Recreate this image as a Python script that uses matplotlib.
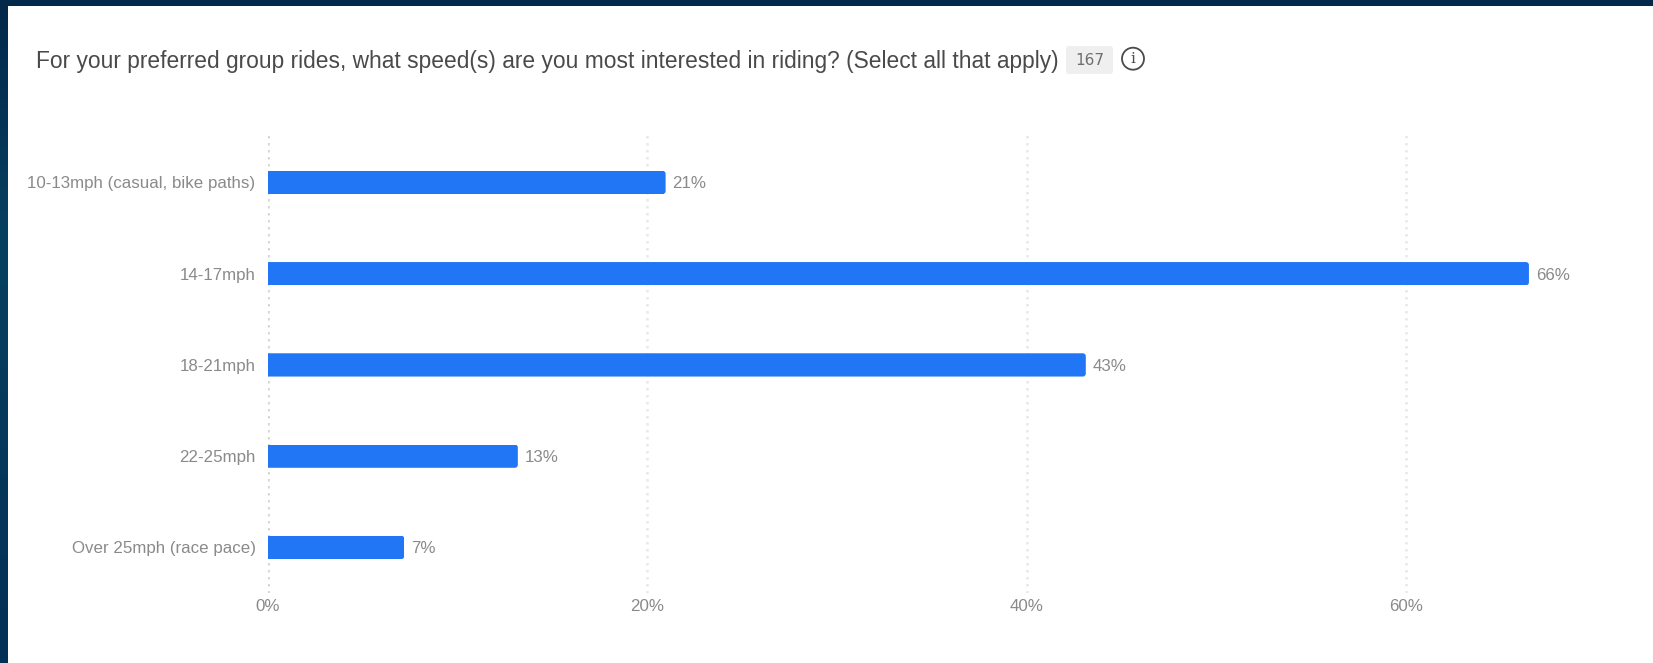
import numpy as np
import matplotlib
matplotlib.use("Agg")
import matplotlib.pyplot as plt
from matplotlib.colors import LinearSegmentedColormap
from matplotlib.patches import Circle, FancyBboxPatch, Rectangle
from matplotlib.transforms import IdentityTransform

categories = ["10-13mph (casual, bike paths)", "14-17mph", "18-21mph", "22-25mph", "Over 25mph (race pace)"]
percent = [20.96, 66.47, 43.11, 13.17, 7.19]
x_ticks = [0, 20, 40, 60]
title = "For your preferred group rides, what speed(s) are you most interested in riding? (Select all that apply)"
responses = "167"

W, H = 1653, 663
plt.rcParams["font.family"] = ["Liberation Sans", "DejaVu Sans"]

fig = plt.figure(figsize=(W / 100, H / 100), dpi=100)

# page background behind the white card
bg = fig.add_axes([0, 0, 1, 1], zorder=-1)
page = LinearSegmentedColormap.from_list("page", [(0, "#02284a"), (0.35, "#07405f"), (1, "#033055")])
bg.imshow(np.linspace(0, 1, 256).reshape(-1, 1), cmap=page, aspect="auto", extent=[0, W, H, 0])
bg.add_patch(Rectangle((8, 6), W - 8, H - 6, facecolor="white", edgecolor="none"))
bg.set_xlim(0, W)
bg.set_ylim(H, 0)
bg.axis("off")

# header row, placed in pixels
bg.text(36.5, 61.5, title, fontsize=16.36, color="#4a4a4a", va="center", ha="left")
bg.add_patch(FancyBboxPatch((1066, 46), 47, 28, boxstyle="round,pad=0,rounding_size=3",
                            facecolor="#efefef", edgecolor="none"))
bg.text(1089.5, 60.5, responses, fontsize=11, color="#6e6e6e", va="center", ha="center", family="DejaVu Sans")
bg.add_patch(Circle((1133, 58.7), 11, facecolor="none", edgecolor="#4a4a4a", linewidth=1.3))
bg.text(1133, 58.7, "i", fontsize=11, color="#4a4a4a", va="center", ha="center", family="DejaVu Serif")

# chart area: 0% at x=268, 18.97px per percent
left, right, top, bottom = 268, 1653, 135, 593
ax = fig.add_axes([left / W, 1 - bottom / H, (right - left) / W, (bottom - top) / H])
ax.set_xlim(0, (right - left) / 18.97)
ax.set_ylim(4.50, -0.52)
ax.patch.set_alpha(0)
for s in ax.spines.values():
    s.set_visible(False)

for t in x_ticks:
    ax.axvline(t, color="#d2d2d2" if t == 0 else "#e8e8e8", linewidth=1.8,
               linestyle=(0, (1, 1.8)), zorder=1)

y = np.arange(len(categories))
bars = ax.barh(y, percent, height=0.255, color="#2176f5", edgecolor="none", zorder=2)

# round the bar corners on the value end only
fig.canvas.draw()
for rect in bars:
    x0, y0, x1, y1 = rect.get_window_extent().extents
    clip = FancyBboxPatch((x0 - 6, y0), x1 - x0 + 6, y1 - y0, boxstyle="round,pad=0,rounding_size=3",
                          transform=IdentityTransform())
    rect.set_clip_path(clip)

for yy, p in zip(y, percent):
    ax.annotate(f"{round(p)}%", (p, yy), xytext=(7, 0), textcoords="offset pixels",
                va="center_baseline", ha="left", fontsize=12.2, color="#8a8a8a")

ax.set_yticks(y, categories)
ax.set_xticks(x_ticks, [f"{t}%" for t in x_ticks])
ax.tick_params(axis="both", length=0, labelsize=12.2, labelcolor="#8a8a8a")
ax.tick_params(axis="y", pad=9)
ax.tick_params(axis="x", pad=4)

fig.savefig("out.png", dpi=100)
